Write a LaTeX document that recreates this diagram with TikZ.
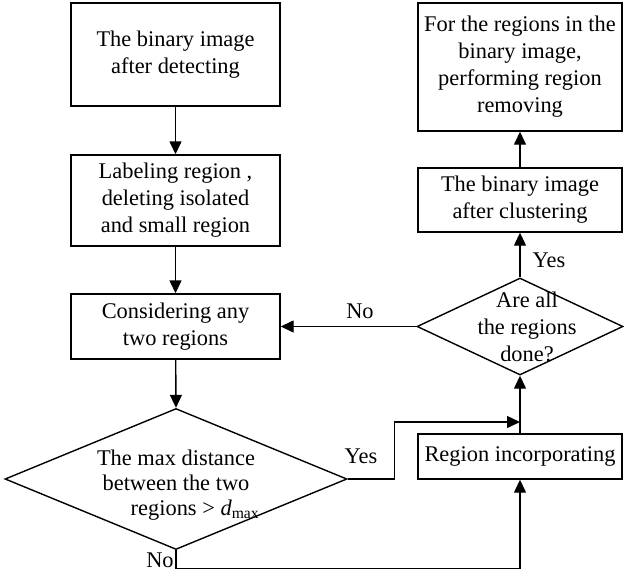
\documentclass[tikz,border=0pt]{standalone}
\usepackage{fontspec}
\setmainfont{Liberation Serif}
\usetikzlibrary{arrows.meta,shapes.geometric}
\begin{document}
\begin{tikzpicture}[x=1pt,y=-1pt,
  fnt/.style={font=\fontsize{22.4}{27}\selectfont},
  box/.style={draw,line width=1.4pt,inner sep=0pt,align=center,fnt},
  txt/.style={inner sep=0pt,align=center,fnt},
  dia/.style={draw,line width=1.4pt,diamond,inner sep=0pt},
  arr/.style={line width=1.4pt,-{Triangle[length=13pt,width=12pt]}},
  ln/.style={line width=1.4pt}]
\useasboundingbox (0,0) rectangle (624,573);
% left column
\node[box,minimum width=209pt,minimum height=103pt] (b1) at (175.5,54.5) {The binary image\\after detecting};
\node[box,minimum width=209pt,minimum height=91pt] (b2) at (175.5,200.5) {Labeling region ,\\deleting isolated\\and small region};
\node[box,minimum width=209pt,minimum height=65pt] (b3) at (175.5,326.5) {Considering any\\two regions};
\node[dia,minimum width=342pt,minimum height=141pt] (d1) at (176,479) {};
\node[txt,font=\fontsize{22.4}{25}\selectfont] (d1t) at (176,485) {The max distance\\between the two\\\hspace*{38pt}regions > \textit{d}\textsubscript{max}};
% right column
\node[box,minimum width=204pt,minimum height=128pt] (t1) at (520,67) {For the regions in the\\binary image,\\performing region\\removing};
\node[box,minimum width=204pt,minimum height=64pt] (c1) at (520,200) {The binary image\\after clustering};
\node[dia,minimum width=206pt,minimum height=97pt] (d2) at (520,326.5) {};
\node[txt] (d2t) at (527,327) {Are all\\the regions\\done?};
\node[box,minimum width=204pt,minimum height=45pt] (ri) at (520,456.5) {Region incorporating};
\coordinate (j) at (520,422);
% connectors
\draw[arr] (b1) -- (b2);
\draw[arr] (b2) -- (b3);
\draw[arr] (b3) -- (d1.north);
\draw[arr] (d2.west) -- (b3.east |- d2.west);
\draw[arr] (d2.north) -- (c1.south);
\draw[arr] (c1) -- (t1);
\draw[arr] (ri.north) -- (d2.south);
\draw[arr] (d1.east) -- ++(47,0) |- (j);
\draw[arr] (d1.south) -- ++(0,18) -| (ri.south);
% labels
\node[txt] (lno1) at (360,311) {No};
\node[txt] (lyes1) at (549,260) {Yes};
\node[txt] (lyes2) at (361,456) {Yes};
\node[txt] (lno2) at (160,560) {No};
\end{tikzpicture}
\end{document}
